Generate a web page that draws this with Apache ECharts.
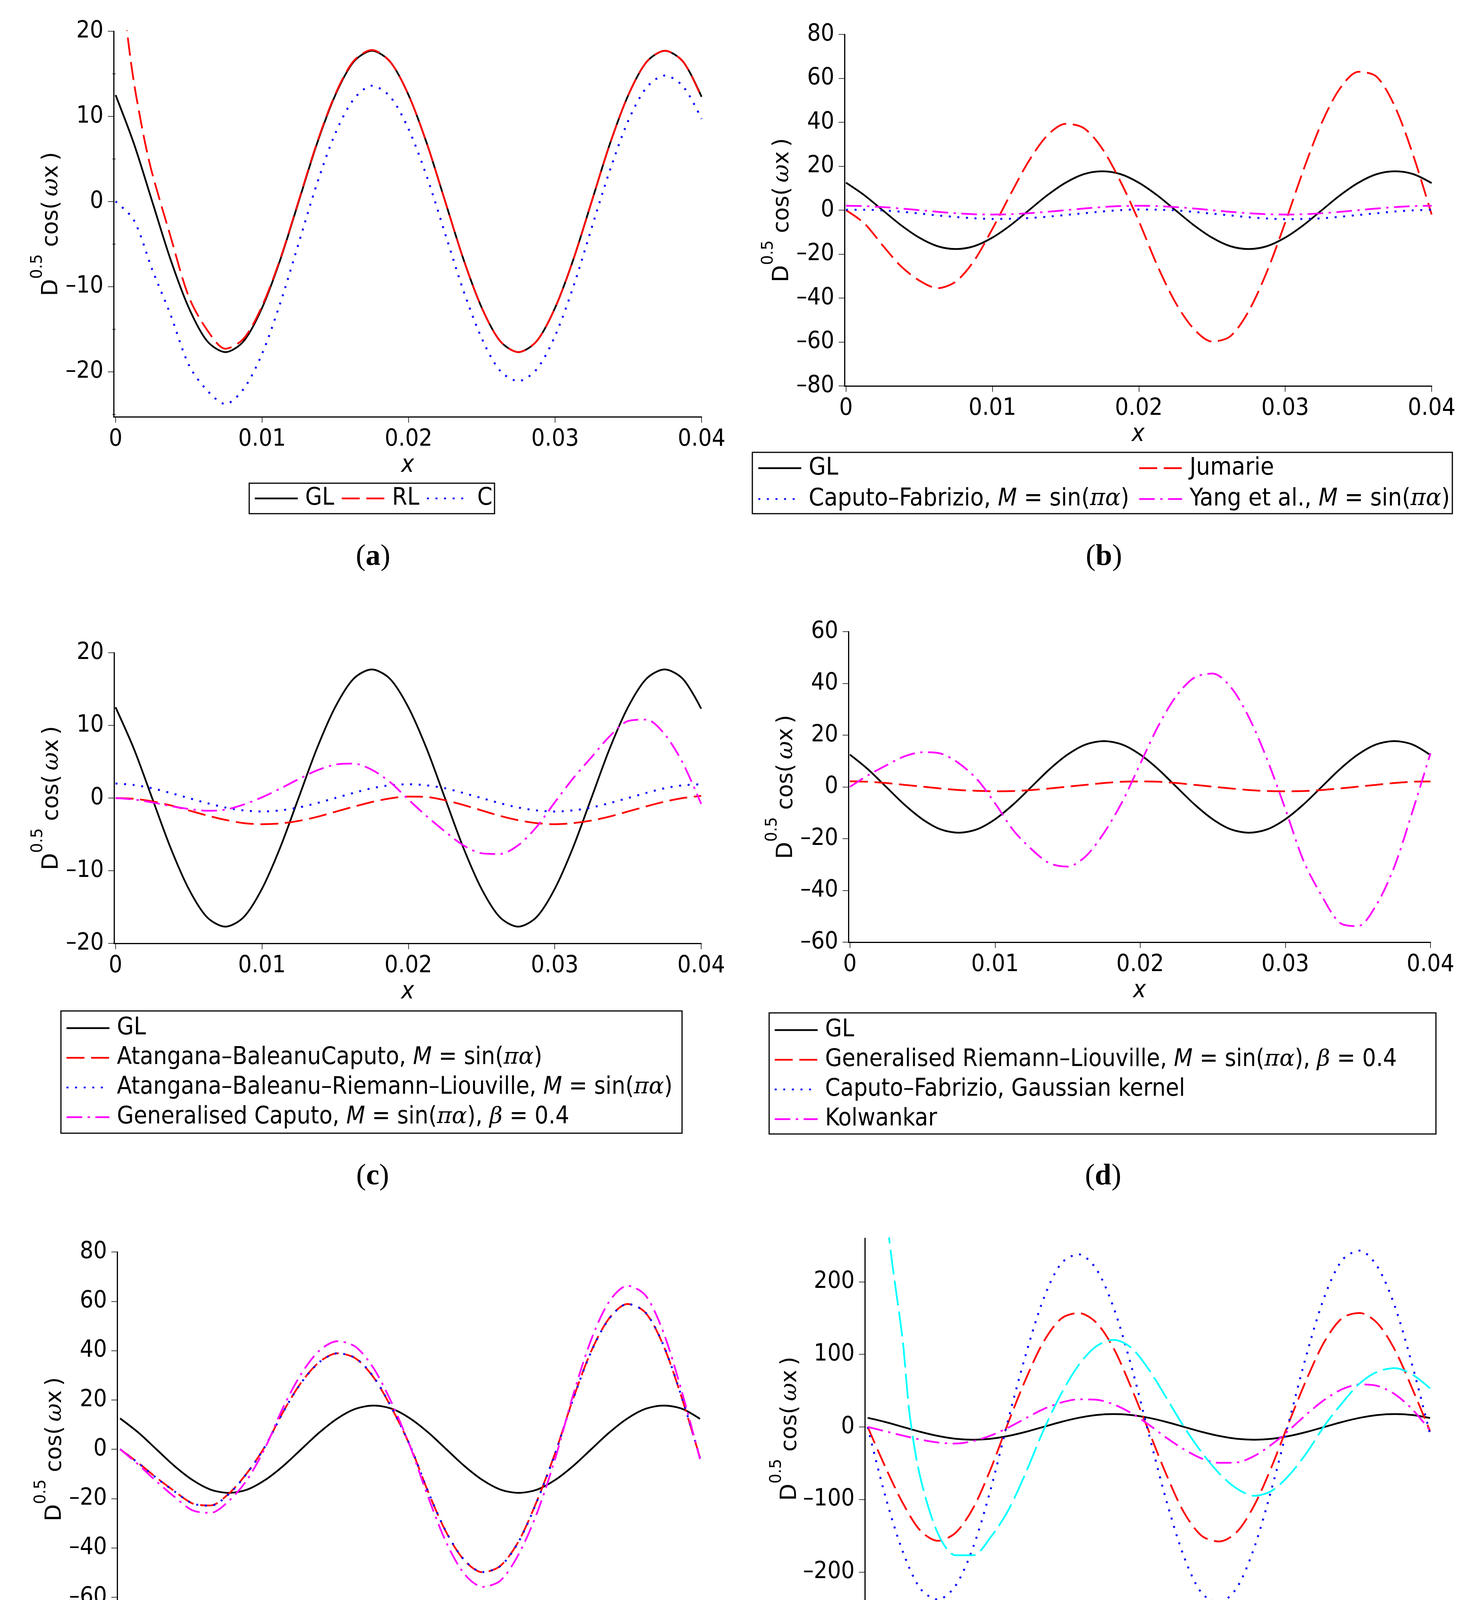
<!DOCTYPE html>
<html>
<head>
<meta charset="utf-8">
<script src="https://cdn.jsdelivr.net/npm/echarts@6/dist/echarts.min.js"></script>
<style>
html, body { margin: 0; padding: 0; background: #fff; }
#chart { width: 3776px; height: 4676px; }
</style>
</head>
<body>
<div id="chart"></div>
<script>
// sample positions shared by most curves
var xGrid = [0, 0.00125, 0.0025, 0.00375, 0.005, 0.00625, 0.0075, 0.00875, 0.01, 0.01125, 0.0125, 0.01375, 0.015, 0.01625, 0.0175, 0.01875, 0.02, 0.02125, 0.0225, 0.02375, 0.025, 0.02625, 0.0275, 0.02875, 0.03, 0.03125, 0.0325, 0.03375, 0.035, 0.03625, 0.0375, 0.03875, 0.04];
var xTicks = [0, 0.01, 0.02, 0.03, 0.04];

// GL curve, same in every panel
var glVals = [12.5, 6.8, 0, -6.8, -12.5, -16.4, -17.7, -16.4, -12.5, -6.8, 0, 6.8, 12.5, 16.4, 17.7, 16.4, 12.5, 6.8, 0, -6.8, -12.5, -16.4, -17.7, -16.4, -12.5, -6.8, 0, 6.8, 12.5, 16.4, 17.7, 16.4, 12.3];

// (a)
var xRL = [0.0005, 0.00075, 0.001, 0.00125, 0.0015, 0.002, 0.0025, 0.00375, 0.005, 0.00625, 0.0075, 0.00875, 0.01, 0.01125, 0.0125, 0.01375, 0.015, 0.01625, 0.0175, 0.01875, 0.02, 0.02125, 0.0225, 0.02375, 0.025, 0.02625, 0.0275, 0.02875, 0.03, 0.03125, 0.0325, 0.03375, 0.035, 0.03625, 0.0375, 0.03875, 0.04];
var rlVals = [25, 20.5, 17, 14, 11.5, 7, 3.3, -4.1, -11.2, -15.1, -17.3, -16.1, -12.3, -6.7, 0.1, 6.9, 12.6, 16.5, 17.8, 16.4, 12.5, 6.8, 0, -6.8, -12.5, -16.4, -17.7, -16.4, -12.5, -6.8, 0, 6.8, 12.5, 16.4, 17.7, 16.4, 12.2];
var cVals = [0, -2.2, -8.0, -13.3, -19.2, -22.2, -23.8, -22.0, -17.9, -11.9, -4.9, 2.1, 8.0, 12.0, 13.6, 12.3, 8.5, 2.9, -3.8, -10.5, -16.1, -19.9, -21.1, -19.7, -15.8, -10.0, -3.1, 3.7, 9.5, 13.4, 14.8, 13.5, 9.7];
var yTicksA = [-20, -10, 0, 10, 20];
var yMinorA = [-25, -15, -5, 5, 15];

// (b)
var jumarieVals = [0, -6, -16, -25.5, -32, -35.5, -32.5, -23, -8.5, 7.4, 22.5, 34, 39.3, 37.3, 28, 13, -5, -25, -42, -54, -59.8, -57.4, -46, -28, -5.6, 18.4, 39.8, 55.5, 63, 60.7, 47, 24.8, -2];
var cfSinVals = [0.2, 0.2, -0.1, -0.7, -1.5, -2.4, -3.1, -3.7, -4.0, -3.9, -3.6, -3.0, -2.2, -1.4, -0.6, 0, 0.3, 0.2, -0.1, -0.8, -1.6, -2.4, -3.2, -3.8, -4.1, -4.0, -3.7, -3.0, -2.2, -1.4, -0.6, -0.1, 0.2];
var yangVals = [2.0, 1.85, 1.4, 0.75, 0, -0.75, -1.4, -1.85, -2.0, -1.85, -1.4, -0.75, 0, 0.75, 1.4, 1.85, 2.0, 1.85, 1.4, 0.75, 0, -0.75, -1.4, -1.85, -2.0, -1.85, -1.4, -0.75, 0, 0.75, 1.4, 1.85, 2.0];
var yTicksB = [-80, -60, -40, -20, 0, 20, 40, 60, 80];

// (c)
var abcVals = [0, -0.1, -0.45, -1.0, -1.7, -2.4, -3.0, -3.45, -3.6, -3.5, -3.15, -2.6, -1.9, -1.2, -0.55, -0.05, 0.2, 0.15, -0.3, -0.95, -1.7, -2.45, -3.05, -3.45, -3.6, -3.45, -3.1, -2.55, -1.85, -1.15, -0.5, 0.0, 0.3];
var abrVals = [2.0, 1.8, 1.35, 0.7, 0, -0.7, -1.3, -1.7, -1.85, -1.7, -1.3, -0.7, 0, 0.7, 1.35, 1.75, 1.9, 1.75, 1.35, 0.7, 0, -0.7, -1.3, -1.7, -1.85, -1.7, -1.3, -0.7, 0, 0.7, 1.35, 1.75, 1.9];
var genCaputoVals = [0, -0.2, -0.6, -1.1, -1.5, -1.75, -1.6, -0.9, 0.1, 1.3, 2.6, 3.8, 4.6, 4.75, 3.9, 2.2, -0.2, -2.5, -4.6, -6.5, -7.6, -7.7, -6.5, -4.0, -0.6, 2.7, 5.6, 8.5, 10.6, 10.8, 8.8, 4.8, -0.8];
var yTicksC = [-20, -10, 0, 10, 20];

// (d)
var genRLVals = [2.2, 2.0, 1.5, 0.8, 0.1, -0.6, -1.2, -1.5, -1.7, -1.6, -1.2, -0.6, 0.1, 0.8, 1.5, 2.0, 2.1, 2.0, 1.5, 0.8, 0.1, -0.6, -1.2, -1.6, -1.7, -1.6, -1.2, -0.6, 0.1, 0.8, 1.5, 2.0, 2.1];
var cfGaussVals = [];
var kolwankarVals = [0, 4.5, 8.3, 11.8, 13.4, 12.9, 9.2, 3, -6.3, -16.7, -24, -29.5, -30.8, -26.8, -17.8, -5.9, 8.9, 23.6, 35.2, 42.3, 43.8, 38.5, 26.8, 10.6, -8.5, -28.5, -42, -52.5, -53.8, -45.8, -31, -9.7, 13];
var yTicksD = [-60, -40, -20, 0, 20, 40, 60];

// (e)
var conformableVals = [0, -5.5, -11.5, -17, -22, -22.8, -18, -9.7, 1.2, 15.2, 27.1, 35.4, 38.9, 36.8, 29, 16.5, 1.4, -17.3, -33.7, -45.1, -49.9, -47.2, -37.2, -21, -1.7, 20.5, 39.8, 53.2, 58.9, 55.3, 41.7, 20.7, -3.5];
var katugampolaVals = [0, -5.6, -11.6, -17.1, -22, -22.9, -18.2, -9.8, 1.1, 15.1, 27, 35.3, 38.9, 36.9, 29.2, 16.6, 1.5, -17.2, -33.6, -45, -49.8, -47.3, -37.4, -21.2, -1.9, 20.3, 39.6, 53.1, 58.9, 55.4, 41.9, 20.9, -3.4];
var mBetaVals = [0, -6.2, -13, -19.3, -24.8, -25.8, -21, -12.5, 0.5, 17, 30.6, 40, 43.8, 41.5, 32.7, 18.6, 1.2, -19.4, -37.8, -50.6, -55.8, -53.2, -42.5, -26, -4, 22, 44.5, 60, 66.3, 62.3, 47, 23.3, -4];
var yTicksE = [-80, -60, -40, -20, 0, 20, 40, 60, 80];

// (f)
var deformableVals = [0, -55, -105, -143, -157, -146, -112, -58, 6, 66, 117, 149, 157, 144, 108, 54, -6, -66, -118, -150, -158, -145, -108, -54, 8, 67, 118, 150, 157, 143, 106, 52, -6];
var betaVals = [0, -95, -172, -223, -238, -219, -166, -86, 10, 100, 176, 225, 238, 218, 164, 84, -10, -102, -179, -229, -242, -222, -166, -84, 10, 102, 180, 230, 243, 221, 166, 84, -10];
var agoVals = [0, -6, -12, -17.5, -21.5, -23, -19.5, -12, -1, 12, 24.5, 33.5, 38, 37.5, 31, 19, 3, -15, -31, -43.5, -49.5, -49, -40, -24, -4, 18, 37.5, 52, 58.5, 56.5, 45, 24, -5];
var xLaz = [0.0012, 0.0015, 0.00175, 0.002, 0.0025, 0.003, 0.00375, 0.005, 0.00625, 0.0075, 0.00875, 0.01, 0.01125, 0.0125, 0.01375, 0.015, 0.01625, 0.0175, 0.01875, 0.02, 0.02125, 0.0225, 0.02375, 0.025, 0.02625, 0.0275, 0.02875, 0.03, 0.03125, 0.0325, 0.03375, 0.035, 0.03625, 0.0375, 0.03875, 0.04];
var lazVals = [330, 265, 225, 190, 118, 15, -70, -147, -177, -177, -152, -115, -63, -5, 45, 85, 111, 120, 109, 79, 40, 0, -35, -64, -85, -95, -88, -66, -35, 2, 33, 60, 76, 81, 72, 53];
var yTicksF = [-200, -100, 0, 100, 200];

var SANS = "'DejaVu Sans Condensed', 'Liberation Sans Narrow', 'DejaVu Sans', sans-serif";
var SERIF = "'DejaVu Serif', serif";

var lines = {
  solid:   { color: '#000000', width: 4.5, type: 'solid' },
  dash:    { color: '#ff0000', width: 4.5, type: [46, 17] },
  dot:     { color: '#0000ff', width: 5, type: [5, 17] },
  dashdot: { color: '#ff00ff', width: 4.5, type: [40, 14, 6, 14] },
  longdash:{ color: '#00ffff', width: 4.5, type: [64, 16] }
};

var legendText = {
  'Caputo–Fabrizio, M = sin(πα)': 'Caputo–Fabrizio, {i|M} = sin({g|πα})',
  'Yang et al., M = sin(πα)': 'Yang et al., {i|M} = sin({g|πα})',
  'Atangana–BaleanuCaputo, M = sin(πα)': 'Atangana–BaleanuCaputo, {i|M} = sin({g|πα})',
  'Atangana–Baleanu–Riemann–Liouville, M = sin(πα)': 'Atangana–Baleanu–Riemann–Liouville, {i|M} = sin({g|πα})',
  'Generalised Caputo, M = sin(πα), β = 0.4': 'Generalised Caputo, {i|M} = sin({g|πα}), {g|β} = 0.4',
  'Generalised Riemann–Liouville, M = sin(πα), β = 0.4': 'Generalised Riemann–Liouville, {i|M} = sin({g|πα}), {g|β} = 0.4',
  'M, β = 0.4': 'M, {g|β} = 0.4',
  'AGO, ψ = x': 'AGO, {g|ψ} = {i|x}'
};

function zip(xv, yv) {
  return yv.map(function (y, i) { return [xv[i], y]; });
}

var panels = [
  { tag: 'a', grid: { left: 291, top: 80, width: 1505, height: 987 }, xmin: -0.00013, ymin: -25.3, ymax: 20,
    ticks: yTicksA, minor: yMinorA, legendSize: 62,
    series: [['GL', xGrid, glVals, 'solid'], ['RL', xRL, rlVals, 'dash'], ['C', xGrid, cVals, 'dot']],
    legends: [{ names: ['GL', 'RL', 'C'], left: 650, top: 1245, orient: 'horizontal', gap: 17 }],
    box: [638, 1237, 628, 78], caption: [955, 1426] },
  { tag: 'b', grid: { left: 2162, top: 88, width: 1503, height: 900 }, xmin: -0.0001, ymin: -80, ymax: 80,
    ticks: yTicksB, legendSize: 63,
    series: [['GL', xGrid, glVals, 'solid'], ['Jumarie', xGrid, jumarieVals, 'dash'],
             ['Caputo–Fabrizio, M = sin(πα)', xGrid, cfSinVals, 'dot'], ['Yang et al., M = sin(πα)', xGrid, yangVals, 'dashdot']],
    legends: [{ names: ['GL', 'Caputo–Fabrizio, M = sin(πα)'], left: 1939, top: 1167, gap: 16 },
              { names: ['Jumarie', 'Yang et al., M = sin(πα)'], left: 2914, top: 1167, gap: 16 }],
    box: [1926, 1158, 1792, 157], caption: [2826, 1426] },
  { tag: 'c', grid: { left: 292, top: 1671, width: 1503, height: 744 }, xmin: -0.0001, ymin: -20, ymax: 20,
    ticks: yTicksC, legendSize: 62,
    series: [['GL', xGrid, glVals, 'solid'], ['Atangana–BaleanuCaputo, M = sin(πα)', xGrid, abcVals, 'dash'],
             ['Atangana–Baleanu–Riemann–Liouville, M = sin(πα)', xGrid, abrVals, 'dot'],
             ['Generalised Caputo, M = sin(πα), β = 0.4', xGrid, genCaputoVals, 'dashdot']],
    legends: [{ names: ['GL', 'Atangana–BaleanuCaputo, M = sin(πα)', 'Atangana–Baleanu–Riemann–Liouville, M = sin(πα)',
                        'Generalised Caputo, M = sin(πα), β = 0.4'], left: 168, top: 2601, gap: 14 }],
    box: [156, 2588, 1590, 313], caption: [954, 3012] },
  { tag: 'd', grid: { left: 2172, top: 1617, width: 1490, height: 795 }, xmin: -0.0001, ymin: -60, ymax: 60,
    ticks: yTicksD, legendSize: 62,
    series: [['GL', xGrid, glVals, 'solid'], ['Generalised Riemann–Liouville, M = sin(πα), β = 0.4', xGrid, genRLVals, 'dash'],
             ['Caputo–Fabrizio, Gaussian kernel', xGrid, cfGaussVals, 'dot'], ['Kolwankar', xGrid, kolwankarVals, 'dashdot']],
    legends: [{ names: ['GL', 'Generalised Riemann–Liouville, M = sin(πα), β = 0.4', 'Caputo–Fabrizio, Gaussian kernel', 'Kolwankar'],
                left: 1981, top: 2606, gap: 14 }],
    box: [1969, 2593, 1707, 310], caption: [2824, 3012] },
  { tag: 'e', grid: { left: 300, top: 3205, width: 1492, height: 1010 }, xmin: -0.0002, ymin: -80, ymax: 80,
    ticks: yTicksE, legendSize: 59,
    series: [['GL', xGrid, glVals, 'solid'], ['Conformable', xGrid, conformableVals, 'dash'],
             ['Katugampola', xGrid, katugampolaVals, 'dot'], ['M, β = 0.4', xGrid, mBetaVals, 'dashdot']],
    legends: [{ names: ['GL', 'Conformable', 'Katugampola', 'M, β = 0.4'], left: 75, top: 4410, orient: 'horizontal', gap: 17 }],
    box: [63, 4393, 1778, 94], caption: [954, 4595] },
  { tag: 'f', grid: { left: 2214, top: 3170, width: 1447, height: 975 }, xmin: -0.0002, ymin: -265, ymax: 260,
    ticks: yTicksF, legendSize: 61,
    series: [['GL', xGrid, glVals, 'solid'], ['Deformable', xGrid, deformableVals, 'dash'], ['Beta', xGrid, betaVals, 'dot'],
             ['AGO, ψ = x', xGrid, agoVals, 'dashdot'], ['Lazopoulos Lambda', xLaz, lazVals, 'longdash']],
    legends: [{ names: ['GL', 'AGO, ψ = x'], left: 2066, top: 4336, gap: 15 },
              { names: ['Deformable', 'Lazopoulos Lambda'], left: 2559, top: 4336, gap: 15 },
              { names: ['Beta'], left: 3314, top: 4336, gap: 15 }],
    box: [2054, 4323, 1536, 164], caption: [2824, 4595] }
];

function fmtY(v) { return v < 0 ? '\u2013' + Math.abs(v) : String(v); }

function richLegend(size) {
  return {
    i: { fontStyle: 'italic', fontFamily: SANS, fontSize: size, color: '#000', lineHeight: 62 },
    g: { fontStyle: 'italic', fontFamily: SERIF, fontSize: size - 4, color: '#000', lineHeight: 62 }
  };
}

var option = { animation: false, backgroundColor: '#ffffff', grid: [], xAxis: [], yAxis: [], series: [], legend: [], graphic: [] };

panels.forEach(function (p, gi) {
  option.grid.push(p.grid);
  option.xAxis.push({
    gridIndex: gi, type: 'value', min: p.xmin, max: 0.04,
    axisLine: { onZero: false, lineStyle: { color: '#000', width: 3 } },
    axisTick: { length: 15, customValues: xTicks, lineStyle: { color: '#000', width: 1.5 } },
    axisLabel: { customValues: xTicks, formatter: function (v) { return String(v); }, fontSize: 61, fontFamily: SANS, color: '#000', margin: 28 },
    splitLine: { show: false },
    name: 'x', nameLocation: 'middle', nameGap: 94,
    nameTextStyle: { fontSize: 62, fontStyle: 'italic', fontFamily: SANS, color: '#000' }
  });
  var yi = option.yAxis.length;
  option.yAxis.push({
    gridIndex: gi, type: 'value', min: p.ymin, max: p.ymax, position: 'left',
    axisLine: { show: true, onZero: false, lineStyle: { color: '#000', width: 3 } },
    axisTick: { show: true, length: 15, customValues: p.ticks, lineStyle: { color: '#000', width: 1.5 } },
    axisLabel: { customValues: p.ticks, formatter: fmtY, fontSize: 61, fontFamily: SANS, color: '#000', margin: 26 },
    splitLine: { show: false },
    name: '{n|D}{s|0.5}{n| cos(\u2009}{w|ω}{n|x\u2009)}', nameLocation: 'middle', nameRotate: 90, nameGap: 104,
    nameTextStyle: {
      color: '#000',
      rich: {
        n: { fontFamily: "'DejaVu Sans', sans-serif", fontSize: 57, color: '#000', lineHeight: 110 },
        s: { fontFamily: "'DejaVu Sans', sans-serif", fontSize: 40, color: '#000', lineHeight: 42, verticalAlign: 'top' },
        w: { fontFamily: SERIF, fontStyle: 'italic', fontSize: 57, color: '#000', lineHeight: 110 }
      }
    }
  });
  if (p.minor) {
    option.yAxis.push({
      gridIndex: gi, type: 'value', min: p.ymin, max: p.ymax, position: 'left', offset: 0,
      axisLine: { show: false }, axisLabel: { show: false }, splitLine: { show: false },
      axisTick: { show: true, length: 8, customValues: p.minor, lineStyle: { color: '#000', width: 1.5 } }
    });
  }
  p.series.forEach(function (s, k) {
    option.series.push({
      type: 'line', name: s[0], xAxisIndex: gi, yAxisIndex: yi, data: zip(s[1], s[2]),
      symbol: 'none', smooth: 0.3, clip: true, silent: true, z: 2 + k,
      itemStyle: { color: lines[s[3]].color, opacity: 0 },
      lineStyle: lines[s[3]]
    });
  });
  p.legends.forEach(function (lg) {
    option.legend.push({
      data: lg.names, orient: lg.orient || 'vertical', left: lg.left, top: lg.top,
      itemWidth: 110, itemHeight: 40, itemGap: lg.gap, padding: 0, selectedMode: false,
      itemStyle: { opacity: 0, borderWidth: 0 },
      lineStyle: { width: 4.5 },
      textStyle: { fontSize: p.legendSize, fontFamily: SANS, color: '#000', lineHeight: 62, padding: [0, 0, 0, 14], rich: richLegend(p.legendSize) },
      formatter: function (n) { return legendText[n] || n; }
    });
  });
  option.graphic.push({
    type: 'rect', silent: true,
    shape: { x: p.box[0], y: p.box[1], width: p.box[2], height: p.box[3] },
    style: { fill: null, stroke: '#000', lineWidth: 3 }
  });
  option.graphic.push({
    type: 'text', silent: true, x: p.caption[0], y: p.caption[1],
    style: {
      text: '{p|(}{b|' + p.tag + '}{p|)}', align: 'center', verticalAlign: 'middle',
      rich: {
        p: { fontFamily: "'Liberation Serif', serif", fontSize: 76, color: '#000' },
        b: { fontFamily: "'Liberation Serif', serif", fontWeight: 'bold', fontSize: 76, color: '#000' }
      }
    }
  });
});

var chartDom = document.getElementById('chart');
var myChart = echarts.init(chartDom);
myChart.setOption(option);
</script>
</body>
</html>
